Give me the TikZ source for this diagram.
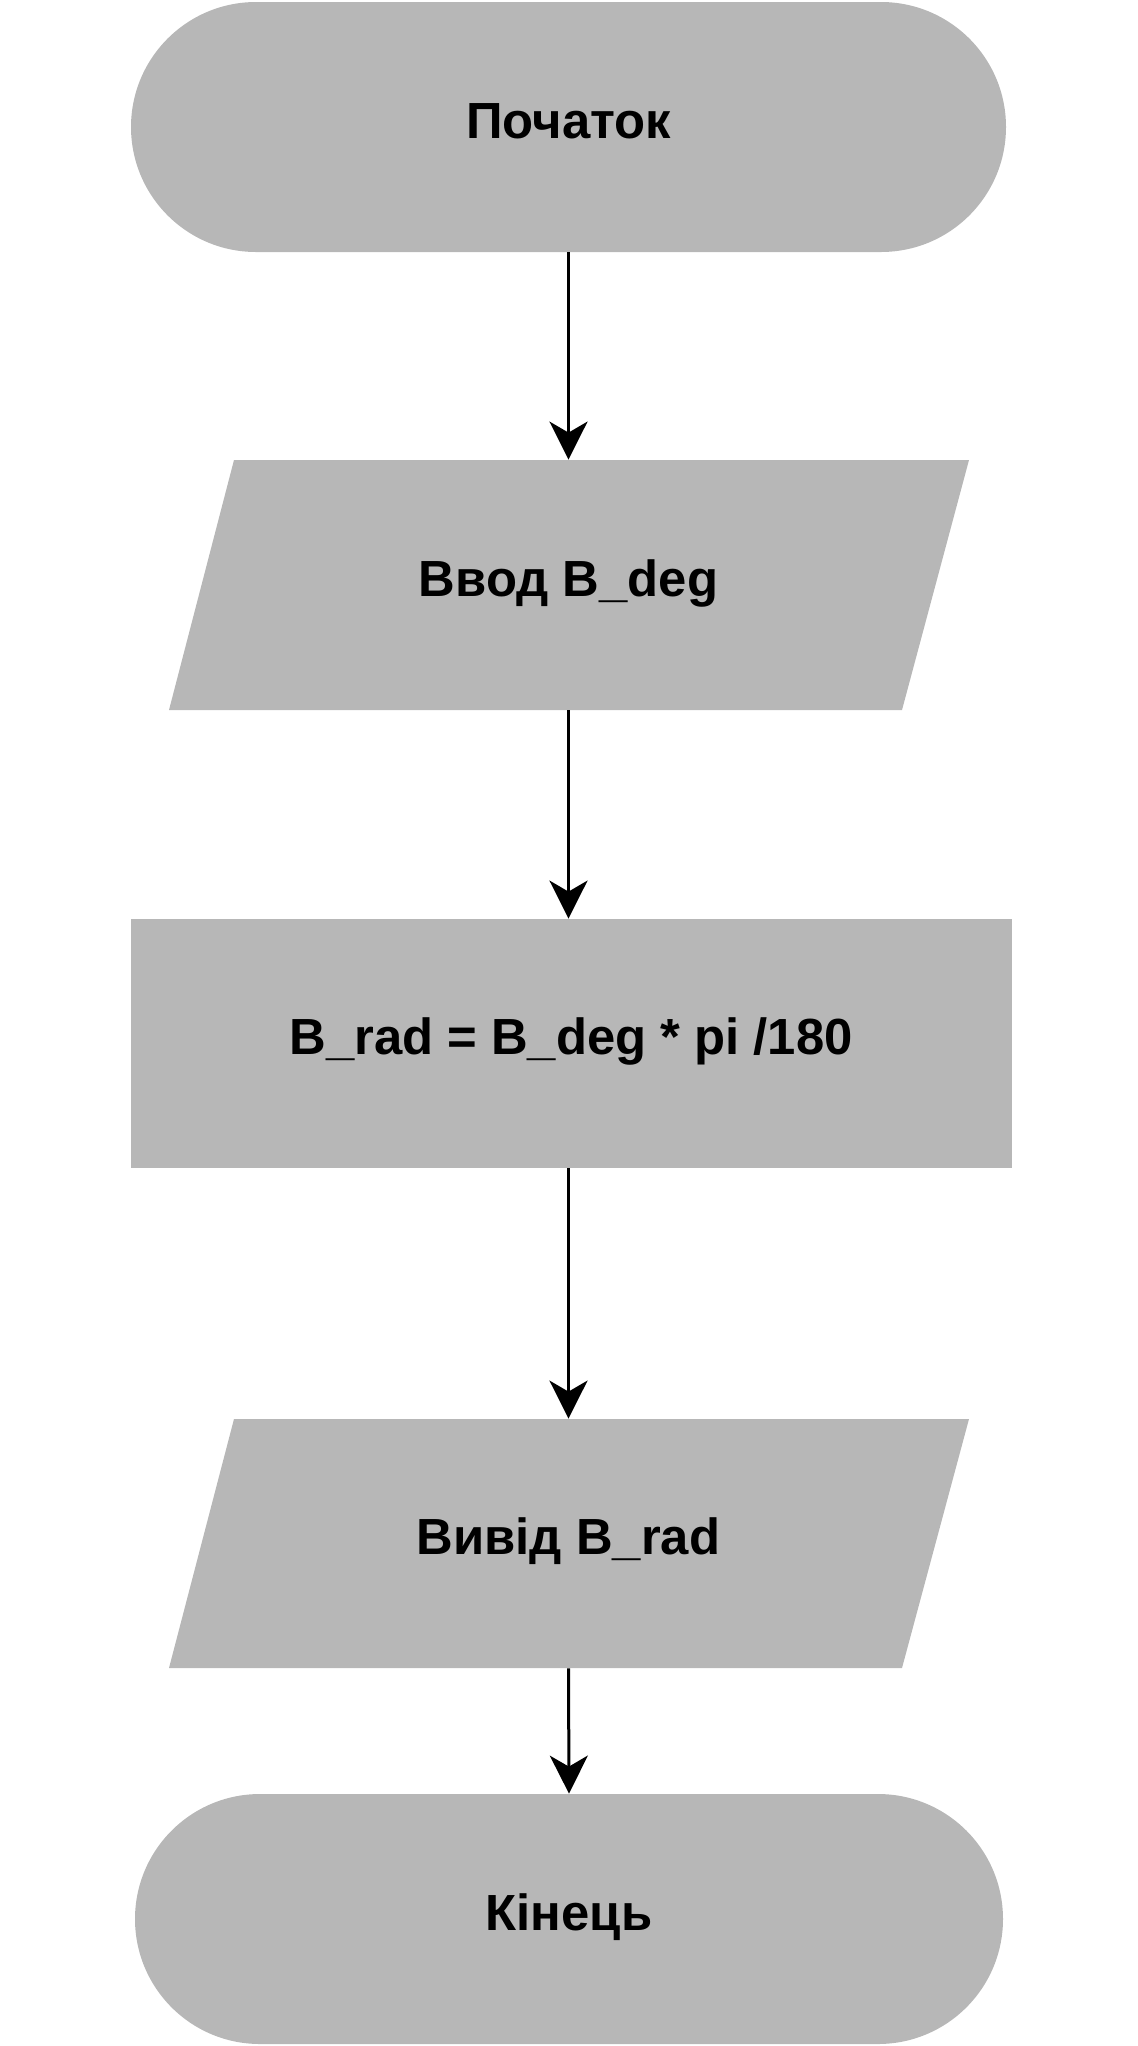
\documentclass[tikz,border=0pt]{standalone}
\usepackage{fontspec}
\setmainfont{Liberation Sans}
\usetikzlibrary{arrows.meta}
\definecolor{shapegray}{RGB}{183,183,183}
\begin{document}
\begin{tikzpicture}[x=0.5pt,y=-0.5pt,
  box/.style={draw=none, inner sep=0pt,
    font=\fontsize{25.4pt}{30pt}\selectfont\bfseries,
    text height=11pt, text depth=0pt},
  terminal/.style={box, fill=shapegray, rectangle, rounded corners=62.5pt,
    minimum height=125pt},
  process/.style={box, fill=shapegray, rectangle, minimum height=124.5pt},
  iotext/.style={box, rectangle, minimum width=366pt, minimum height=125pt},
  iofill/.style={fill=shapegray},
  flow/.style={line width=1.5pt,
    -{Stealth[length=19pt,width=19pt,inset=5.5pt]}}]
\useasboundingbox (0,0) rectangle (1138,2046);

% parallelogram bodies
\fill[iofill] (234,460) -- (969,460) -- (902,710) -- (169,710) -- cycle;
\fill[iofill] (234,1419) -- (969,1419) -- (902,1668) -- (169,1668) -- cycle;

\node[terminal, minimum width=437.5pt] (start) at (568.5,127) {Початок};
\node[iotext] (input) at (568.5,585) {Ввод B\_deg};
\node[process, minimum width=440.5pt] (calc) at (571,1043.5) {B\_rad = B\_deg * pi /180};
\node[iotext, minimum height=124.5pt] (output) at (568.5,1543.5) {Вивід B\_rad};
\node[terminal, minimum width=434pt] (stop) at (569,1919) {Кінець};

\draw[flow] (start.south) -- (input.north);
\draw[flow] (input.south) -- (input.south |- calc.north);
\draw[flow] (input.south |- calc.south) -- (output.north);
\draw[flow] (output.south) -- (stop.north);
\end{tikzpicture}
\end{document}
